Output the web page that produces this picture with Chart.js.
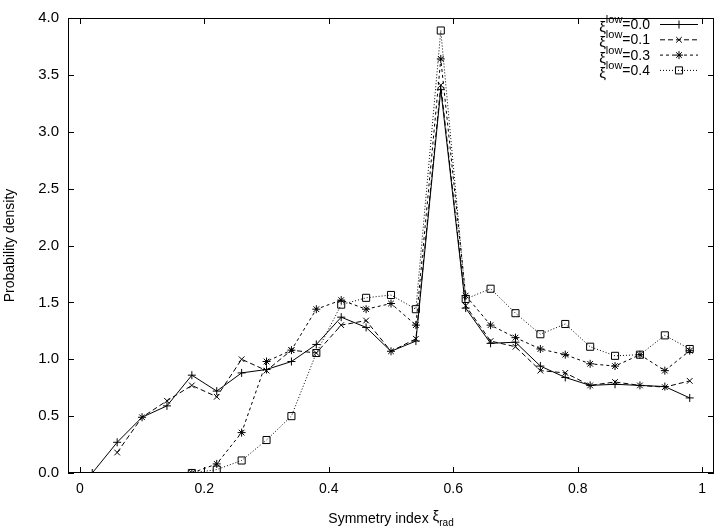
<!DOCTYPE html>
<html>
<head>
<meta charset="utf-8">
<script src="https://cdn.jsdelivr.net/npm/chart.js@4/dist/chart.umd.min.js"></script>
<style>
  body { margin: 0; background: #fff; }
  #wrap { width: 720px; height: 532px; }
</style>
</head>
<body>
<div id="wrap"><canvas id="grafico" width="720" height="532"></canvas></div>
<script>
// bin centres of the symmetry index
const xValues = [0.02, 0.06, 0.10, 0.14, 0.18, 0.22, 0.26, 0.30, 0.34, 0.38, 0.42, 0.46, 0.50,
                 0.54, 0.58, 0.62, 0.66, 0.70, 0.74, 0.78, 0.82, 0.86, 0.90, 0.94, 0.98];

const low00 = [0.00, 0.27, 0.49, 0.59, 0.86, 0.72, 0.88, 0.91, 0.98, 1.13, 1.37, 1.28, 1.07,
               1.16, 3.37, 1.45, 1.14, 1.15, 0.94, 0.84, 0.77, 0.78, 0.77, 0.76, 0.66];
const low01 = [null, 0.18, 0.49, 0.635, 0.77, 0.67, 1.00, 0.90, 1.08, 1.055, 1.30, 1.34, 1.07,
               1.18, 3.41, 1.47, 1.16, 1.11, 0.90, 0.88, 0.77, 0.80, 0.77, 0.755, 0.81];
const low03 = [null, null, null, null, 0.00, 0.08, 0.355, 0.98, 1.08, 1.44, 1.52, 1.44, 1.49,
               1.30, 3.64, 1.56, 1.30, 1.19, 1.09, 1.04, 0.96, 0.94, 1.04, 0.90, 1.075];
const low04 = [null, null, null, null, 0.00, 0.03, 0.11, 0.29, 0.50, 1.055, 1.48, 1.54, 1.565,
               1.44, 3.89, 1.53, 1.62, 1.405, 1.22, 1.31, 1.11, 1.03, 1.04, 1.21, 1.09];

const seriesLabels = ['0.0', '0.1', '0.3', '0.4'];
const xTicks = [0, 0.2, 0.4, 0.6, 0.8, 1];
const xTickLabels = ['0', '0.2', '0.4', '0.6', '0.8', '1'];

const FONT = '"Liberation Sans", Arial, sans-serif';

const estilos = [
  { dash: [], point: 'cross', r: 4 },
  { dash: [5, 3], point: 'crossRot', r: 4 },
  { dash: [3, 3], point: 'star', r: 4 },
  { dash: [1, 2], point: 'rect', r: 5 },
];

function pontos(ys) {
  return xValues.map((x, i) => ({ x: x, y: ys[i] }));
}

const datasets = [low00, low01, low03, low04].map((ys, i) => ({
  label: seriesLabels[i],
  data: pontos(ys),
  borderColor: '#000',
  borderWidth: 1,
  borderDash: estilos[i].dash,
  pointStyle: estilos[i].point,
  pointRadius: estilos[i].r,
  pointBorderColor: '#000',
  pointBorderWidth: 1,
  pointBackgroundColor: 'rgba(0,0,0,0)',
  tension: 0,
  fill: false,
}));

// frame, inward tick marks, axis titles and the legend in gnuplot style
const molduraPlugin = {
  id: 'moldura',
  afterDraw(chart) {
    const ctx = chart.ctx;
    const a = chart.chartArea;
    const xs = chart.scales.x;
    const ys = chart.scales.y;
    ctx.save();
    ctx.strokeStyle = '#000';
    ctx.lineWidth = 1;
    ctx.setLineDash([]);
    ctx.strokeRect(a.left + 0.5, a.top + 0.5, a.right - a.left - 1, a.bottom - a.top - 1);
    ctx.beginPath();
    xTicks.forEach(v => {
      const px = Math.round(xs.getPixelForValue(v)) + 0.5;
      ctx.moveTo(px, a.bottom); ctx.lineTo(px, a.bottom - 6);
      ctx.moveTo(px, a.top); ctx.lineTo(px, a.top + 6);
    });
    ys.ticks.forEach(t => {
      const py = Math.round(ys.getPixelForValue(t.value)) + 0.5;
      ctx.moveTo(a.left, py); ctx.lineTo(a.left + 6, py);
      ctx.moveTo(a.right, py); ctx.lineTo(a.right - 6, py);
    });
    ctx.stroke();

    ctx.fillStyle = '#000';
    // x title with subscript
    const cx = (a.left + a.right) / 2;
    const base = 523;
    ctx.font = '14px ' + FONT;
    const t1 = 'Symmetry index ';
    const t2 = 'ξ';
    const w1 = ctx.measureText(t1).width;
    ctx.font = '15px ' + FONT;
    const w2 = ctx.measureText(t2).width;
    ctx.font = '10px ' + FONT;
    const w3 = ctx.measureText('rad').width;
    let sx = cx - (w1 + w2 + w3) / 2;
    ctx.textAlign = 'left';
    ctx.textBaseline = 'alphabetic';
    ctx.font = '14px ' + FONT;
    ctx.fillText(t1, sx, base);
    ctx.font = '15px ' + FONT;
    ctx.fillText(t2, sx + w1, base - 2);
    ctx.font = '10px ' + FONT;
    ctx.fillText('rad', sx + w1 + w2, base + 3);

    // y title
    ctx.save();
    ctx.translate(10, (a.top + a.bottom) / 2);
    ctx.rotate(-Math.PI / 2);
    ctx.font = '14px ' + FONT;
    ctx.textAlign = 'center';
    ctx.textBaseline = 'middle';
    ctx.fillText('Probability density', 0, 0);
    ctx.restore();

    // legend
    const textRight = 650;
    chart.data.datasets.forEach((ds, i) => {
      const y = 24 + 15.3 * i;
      ctx.fillStyle = '#000';
      ctx.textAlign = 'right';
      ctx.textBaseline = 'alphabetic';
      ctx.font = '14px ' + FONT;
      const eq = '=' + seriesLabels[i];
      const we = ctx.measureText(eq).width;
      ctx.fillText(eq, textRight, y + 5);
      ctx.font = '11px ' + FONT;
      const wl = ctx.measureText('low').width;
      ctx.fillText('low', textRight - we, y - 1);
      ctx.font = '15px ' + FONT;
      ctx.fillText('ξ', textRight - we - wl, y + 8);

      ctx.beginPath();
      ctx.setLineDash(estilos[i].dash);
      ctx.moveTo(660, y + 0.5);
      ctx.lineTo(698, y + 0.5);
      ctx.stroke();
      ctx.setLineDash([]);
      ctx.fillStyle = 'rgba(0,0,0,0)';
      Chart.helpers.drawPoint(ctx, {
        pointStyle: estilos[i].point,
        radius: estilos[i].r,
        rotation: 0,
        borderWidth: 1,
      }, 679, y + 0.5);
    });
    ctx.restore();
  },
};

const ctx = document.getElementById('grafico').getContext('2d');

const grafico = new Chart(ctx, {
  type: 'line',
  data: { datasets: datasets },
  options: {
    responsive: false,
    animation: false,
    layout: { padding: { left: 0, right: 4, top: 7, bottom: 0 } },
    scales: {
      x: {
        type: 'linear',
        min: -0.019,
        max: 1.019,
        afterBuildTicks: scale => { scale.ticks = xTicks.map(v => ({ value: v })); },
        afterFit: scale => { scale.height = 59; },
        grid: { display: false, drawTicks: false },
        border: { display: false },
        ticks: {
          padding: 8,
          maxRotation: 0,
          autoSkip: false,
          color: '#000',
          font: { family: FONT, size: 14 },
          callback: v => xTickLabels[xTicks.indexOf(v)] ?? '',
        },
      },
      y: {
        min: 0,
        max: 4,
        afterFit: scale => { scale.width = 68; },
        grid: { display: false, drawTicks: false },
        border: { display: false },
        ticks: {
          stepSize: 0.5,
          padding: 9,
          color: '#000',
          font: { family: FONT, size: 15 },
          callback: v => v.toFixed(1),
        },
      },
    },
    plugins: {
      legend: { display: false },
      tooltip: { enabled: false },
    },
  },
  plugins: [molduraPlugin],
});
</script>
</body>
</html>
